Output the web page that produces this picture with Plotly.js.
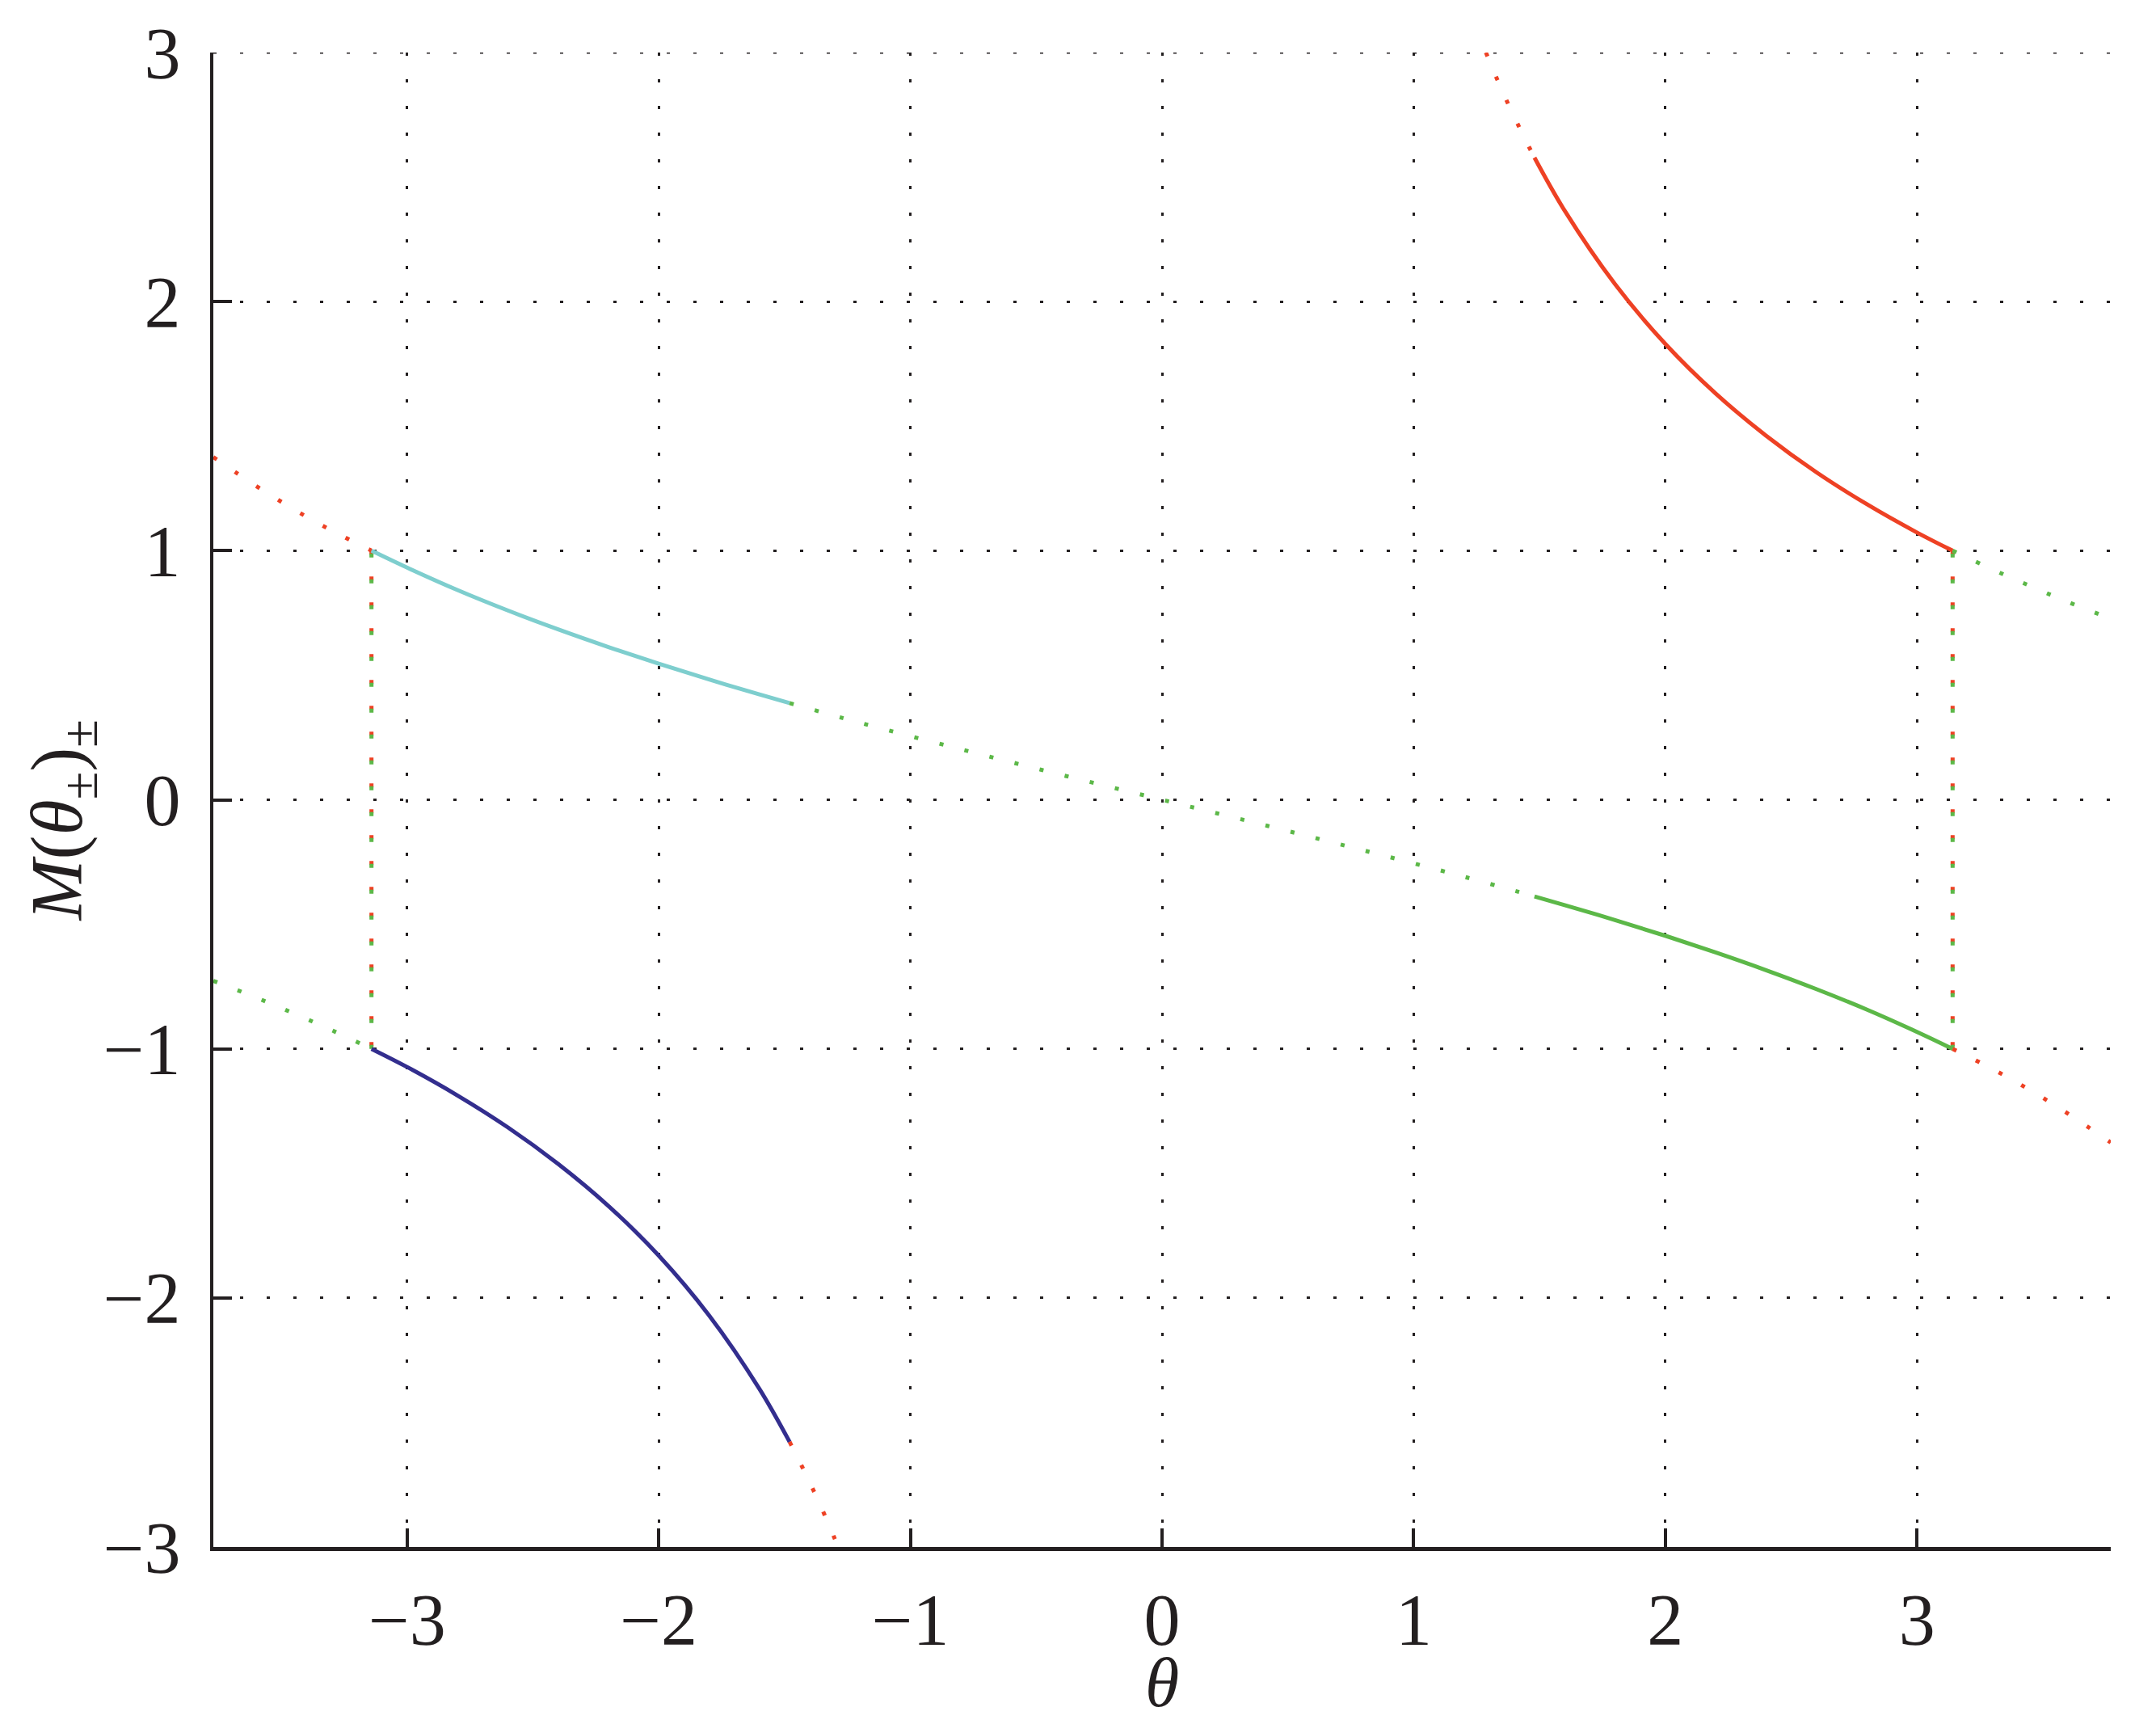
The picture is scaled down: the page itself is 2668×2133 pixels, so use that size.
<!DOCTYPE html>
<html>
<head>
<meta charset="utf-8">
<script src="https://cdn.plot.ly/plotly-3.0.1.min.js"></script>
<style>
html,body{margin:0;padding:0;background:#fff;}
#chart{width:2668px;height:2133px;}
</style>
</head>
<body>
<div id="chart"></div>
<script>
// ---- data ----
// red dotted, upper left (θ from left edge to −π)
const thetaRedUL = [-3.77, -3.6, -3.45, -3.3, -3.1416];
const mRedUL     = [1.376, 1.260, 1.166, 1.081, 1.0];
// cyan solid (−π to −1.48)
const thetaCyan = [-3.1416, -3.0, -2.8, -2.6, -2.4, -2.2, -2.0, -1.8, -1.6, -1.48];
const mCyan     = [1.0, 0.932, 0.842, 0.760, 0.684, 0.613, 0.546, 0.483, 0.423, 0.388];
// green dotted, middle (−1.48 to 1.48)
const thetaGreenMid = [-1.48, -1.2, -0.8, -0.4, 0.0, 0.4, 0.8, 1.2, 1.48];
const mGreenMid     = [0.388, 0.309, 0.203, 0.100, 0.0, -0.100, -0.203, -0.309, -0.388];
// green solid (1.48 to π)
const thetaGreen = [1.48, 1.6, 1.8, 2.0, 2.2, 2.4, 2.6, 2.8, 3.0, 3.1416];
const mGreen     = [-0.388, -0.423, -0.483, -0.546, -0.613, -0.684, -0.760, -0.842, -0.932, -1.0];
// green dotted, upper right (π to right edge)
const thetaGreenUR = [3.1416, 3.3, 3.45, 3.6, 3.77];
const mGreenUR     = [1.0, 0.925, 0.858, 0.794, 0.727];
// red solid (1.48 to π)
const thetaRed = [1.48, 1.6, 1.8, 2.0, 2.2, 2.4, 2.6, 2.8, 3.0, 3.1416];
const mRed     = [2.578, 2.365, 2.070, 1.830, 1.631, 1.462, 1.315, 1.187, 1.073, 1.0];
// red dotted, top (from top edge to 1.48)
const thetaRedTop = [1.287, 1.35, 1.42, 1.48];
const mRedTop     = [3.0, 2.850, 2.699, 2.578];
// red dotted, lower right (π to right edge)
const thetaRedLR = [3.1416, 3.3, 3.45, 3.6, 3.77];
const mRedLR     = [-1.0, -1.081, -1.166, -1.260, -1.376];
// green dotted, lower left (left edge to −π)
const thetaGreenLL = [-3.77, -3.6, -3.45, -3.3, -3.1416];
const mGreenLL     = [-0.727, -0.794, -0.858, -0.925, -1.0];
// navy solid (−π to −1.48)
const thetaNavy = [-3.1416, -3.0, -2.8, -2.6, -2.4, -2.2, -2.0, -1.8, -1.6, -1.48];
const mNavy     = [-1.0, -1.073, -1.187, -1.315, -1.462, -1.631, -1.830, -2.070, -2.365, -2.578];
// red dotted, bottom (−1.48 to bottom edge)
const thetaRedBot = [-1.48, -1.42, -1.35, -1.287];
const mRedBot     = [-2.578, -2.699, -2.850, -3.0];
// vertical jumps at ±π
const thetaJumpL = [-3.1416, -3.1416];
const thetaJumpR = [3.1416, 3.1416];
const mJumpDown = [1.0, -1.0];
const mJumpUp   = [-1.0, 1.0];

// tick labels
const xTicks = [-3, -2, -1, 0, 1, 2, 3];
const yTicks = [-3, -2, -1, 0, 1, 2, 3];
const xRange = [-3.77, 3.77];
const yRange = [-3, 3];

// ---- styles ----
const RED = '#ee4124', GREEN = '#5cb848', CYAN = '#7ecece', NAVY = '#332e8e';
const INK = '#231f20';
const DOT = '5px,27px';
const SERIF = 'Liberation Serif, Times New Roman, serif';

function seg(x, y, color, dotted) {
  return {
    x: x, y: y, type: 'scatter', mode: 'lines',
    line: {color: color, width: 5, dash: dotted ? DOT : 'solid', shape: 'spline', smoothing: 1},
    hoverinfo: 'skip', showlegend: false, cliponaxis: true
  };
}

const traces = [
  seg(thetaRedUL, mRedUL, RED, true),
  seg(thetaGreenLL, mGreenLL, GREEN, true),
  seg(thetaJumpL, mJumpDown, RED, true),
  seg(thetaJumpL, mJumpUp, GREEN, true),
  seg(thetaCyan, mCyan, CYAN, false),
  seg(thetaNavy, mNavy, NAVY, false),
  seg(thetaRedBot, mRedBot, RED, true),
  seg(thetaGreenMid, mGreenMid, GREEN, true),
  seg(thetaRedTop, mRedTop, RED, true),
  seg(thetaRed, mRed, RED, false),
  seg(thetaGreen, mGreen, GREEN, false),
  seg(thetaJumpR, mJumpDown, RED, true),
  seg(thetaJumpR, mJumpUp, GREEN, true),
  seg(thetaGreenUR, mGreenUR, GREEN, true),
  seg(thetaRedLR, mRedLR, RED, true)
];

const tickFont = {family: SERIF, size: 90, color: INK};
const fmt = v => (v < 0 ? '\u2212' + (-v) : '' + v);

const axisCommon = {
  showline: true, linecolor: INK, linewidth: 4.5, mirror: false,
  ticks: 'inside', ticklen: 23, tickwidth: 4, tickcolor: INK,
  showgrid: true, gridcolor: INK, gridwidth: 3, griddash: '4px,29px',
  zeroline: false, tickfont: tickFont, fixedrange: true
};

const layout = {
  width: 2668, height: 2133,
  paper_bgcolor: '#ffffff', plot_bgcolor: '#ffffff',
  margin: {l: 264, r: 56, t: 65, b: 219, pad: 0},
  xaxis: Object.assign({}, axisCommon, {
    range: xRange, tickvals: xTicks, ticktext: xTicks.map(fmt), ticklabelstandoff: 8
  }),
  yaxis: Object.assign({}, axisCommon, {
    range: yRange, tickvals: yTicks, ticktext: yTicks.map(fmt), ticklabelstandoff: 18
  }),
  shapes: [
    // dotted grid line along the top (y = 3), which the axis does not draw at the range edge
    {type: 'line', xref: 'x', yref: 'y', x0: xRange[0], x1: xRange[1], y0: yRange[1], y1: yRange[1],
     line: {color: INK, width: 3, dash: '4px,29px'}, layer: 'below'}
  ],
  annotations: [
    {text: '<i>θ</i>', xref: 'paper', yref: 'paper', x: 0.5, y: -0.091,
     xanchor: 'center', yanchor: 'middle', showarrow: false,
     font: {family: SERIF, size: 86, color: INK}},
    {text: '<i>M</i>(<i>θ</i><sub>±</sub>)<sub>±</sub>', xref: 'paper', yref: 'paper',
     x: -0.0796, y: 0.486, xanchor: 'center', yanchor: 'middle', textangle: -90,
     showarrow: false,
     font: {family: SERIF, size: 90, color: INK}}
  ]
};

Plotly.newPlot('chart', traces, layout, {displayModeBar: false, staticPlot: true});
</script>
</body>
</html>
